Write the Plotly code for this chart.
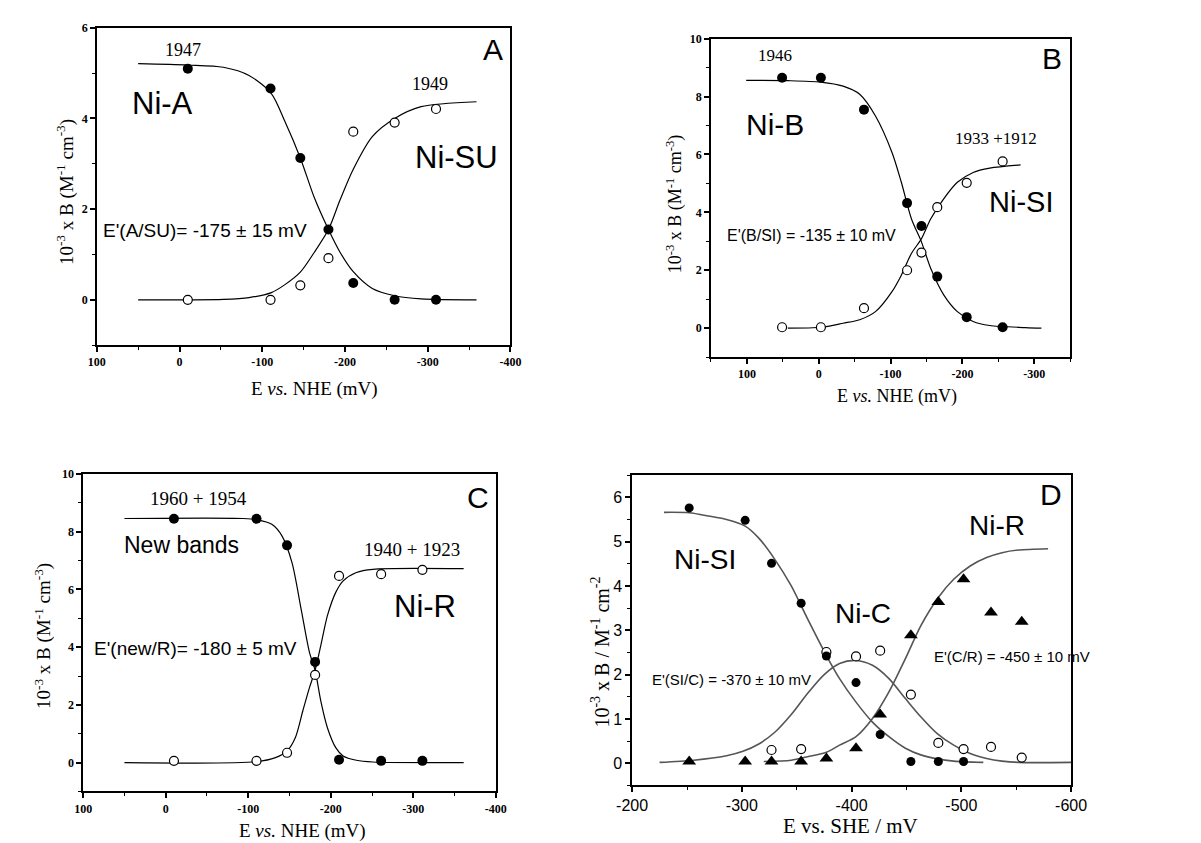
import plotly.graph_objects as go

W, H = 1201, 843

# ---------------- Panel A data ----------------
A_x = [-10, -110, -146, -180, -210, -260, -310]
A_NiA = [5.10, 4.66, 3.13, 1.55, 0.37, 0.0, 0.0]
A_NiSU = [0.0, 0.0, 0.32, 0.92, 3.71, 3.91, 4.21]
A_fit_x = [50, -10, -53, -84, -111, -127, -146, -163, -180, -194, -210, -233, -260, -292, -359]
A_fitA_y = [5.21, 5.18, 5.13, 4.95, 4.55, 3.95, 3.13, 2.25, 1.55, 1.05, 0.62, 0.25, 0.09, 0.02, 0.0]
A_fitSU_y = [0.0, 0.0, 0.01, 0.05, 0.16, 0.33, 0.61, 1.05, 1.55, 2.2, 2.88, 3.6, 4.0, 4.26, 4.37]

# ---------------- Panel B data ----------------
B_x = [51, -3, -63, -123, -143, -165, -206, -256]
B_NiB = [8.65, 8.65, 7.55, 4.32, 3.53, 1.78, 0.38, 0.03]
B_NiSI = [0.03, 0.03, 0.69, 2.0, 2.61, 4.18, 5.02, 5.76]
B_fitB_x = [101, 43, -3, -34, -57, -79, -102, -115, -129, -143, -156, -174, -193, -215, -238, -288, -310]
B_fitB_y = [8.56, 8.55, 8.5, 8.36, 8.08, 7.33, 6.07, 5.04, 3.78, 2.98, 2.06, 1.15, 0.57, 0.23, 0.09, 0.02, 0.0]
B_fitSI_x = [43, -3, -34, -57, -79, -102, -115, -129, -143, -156, -174, -193, -215, -238, -281]
B_fitSI_y = [0.0, 0.03, 0.17, 0.29, 0.57, 1.26, 1.83, 2.58, 3.09, 3.78, 4.47, 5.04, 5.38, 5.53, 5.64]

# ---------------- Panel C data ----------------
C_x = [-10, -110, -147, -181, -210, -261, -311]
C_new = [8.45, 8.45, 7.53, 3.49, 0.10, 0.06, 0.06]
C_NiR = [0.06, 0.06, 0.34, 3.04, 6.47, 6.53, 6.68]
C_fitN_x = [50, -94, -110, -129, -141, -153, -164, -174, -181, -188, -196, -206, -215, -231, -251, -361]
C_fitN_y = [8.46, 8.46, 8.42, 8.25, 7.85, 6.93, 5.33, 3.84, 3.2, 2.12, 1.2, 0.52, 0.23, 0.08, 0.02, 0.0]
C_fitR_x = [50, -110, -133, -147, -157, -166, -174, -181, -188, -196, -206, -215, -231, -251, -361]
C_fitR_y = [0.0, 0.03, 0.17, 0.4, 0.86, 1.78, 2.58, 3.2, 4.07, 5.1, 5.9, 6.3, 6.59, 6.7, 6.72]

# ---------------- Panel D data ----------------
D_x = [-252, -303, -327, -354, -377, -404, -426, -454, -479, -502, -527, -555]
D_SI = [5.76, 5.48, 4.51, 3.61, 2.42, 1.82, 0.65, 0.04, 0.04, 0.04]
D_C_x = [-327, -354, -377, -404, -426, -454, -479, -502, -527, -555]
D_C = [0.30, 0.32, 2.51, 2.41, 2.54, 1.55, 0.46, 0.32, 0.37, 0.13]
D_R = [0.04, 0.04, 0.04, 0.04, 0.11, 0.34, 1.10, 2.89, 3.64, 4.15, 3.40, 3.19]
D_fitSI_x = [-229, -252, -271, -286, -303, -315, -330, -345, -360, -377, -389, -404, -419, -434, -449, -463, -478, -493, -520]
D_fitSI_y = [5.66, 5.65, 5.57, 5.50, 5.35, 5.09, 4.6, 4.0, 3.25, 2.43, 1.91, 1.38, 0.93, 0.6, 0.34, 0.19, 0.1, 0.05, 0.02]
D_fitC_x = [-225, -256, -286, -301, -315, -330, -345, -360, -375, -389, -404, -419, -434, -449, -463, -478, -493, -508, -523, -537, -552, -600]
D_fitC_y = [0.02, 0.07, 0.17, 0.27, 0.43, 0.70, 1.10, 1.58, 2.00, 2.25, 2.32, 2.21, 1.91, 1.46, 1.05, 0.67, 0.41, 0.22, 0.11, 0.05, 0.02, 0.02]
D_fitR_x = [-320, -345, -360, -377, -389, -404, -419, -434, -449, -463, -479, -493, -508, -523, -537, -552, -579]
D_fitR_y = [0.04, 0.07, 0.15, 0.25, 0.41, 0.6, 1.01, 1.61, 2.36, 3.1, 3.74, 4.15, 4.45, 4.64, 4.75, 4.81, 4.84]

# ---------------- tick labels ----------------
X_NHE_vals = [100, 0, -100, -200, -300, -400]
X_NHE_text = ["100", "0", "-100", "-200", "-300", "-400"]
XB_vals = [100, 0, -100, -200, -300]
XB_text = ["100", "0", "-100", "-200", "-300"]
YA_vals = [0, 2, 4, 6]
YA_text = ["0", "2", "4", "6"]
Y10_vals = [0, 2, 4, 6, 8, 10]
Y10_text = ["0", "2", "4", "6", "8", "10"]
XD_vals = [-200, -300, -400, -500, -600]
XD_text = ["-200", "-300", "-400", "-500", "-600"]
YD_vals = [0, 1, 2, 3, 4, 5, 6]
YD_text = ["0", "1", "2", "3", "4", "5", "6"]

SERIF = "Liberation Serif, Times New Roman, serif"
SANS = "Liberation Sans, Arial, sans-serif"

fig = go.Figure()


def line(x, y, ax, color="black", width=1.2):
    fig.add_trace(go.Scatter(x=x, y=y, mode="lines", xaxis=ax[0], yaxis=ax[1],
                             line=dict(color=color, width=width, shape="spline", smoothing=0.8),
                             showlegend=False, hoverinfo="skip"))


def filled(x, y, ax, size=10, symbol="circle"):
    fig.add_trace(go.Scatter(x=x, y=y, mode="markers", xaxis=ax[0], yaxis=ax[1],
                             marker=dict(color="black", size=size, symbol=symbol,
                                         line=dict(width=0)),
                             showlegend=False))


def opened(x, y, ax, size=9):
    fig.add_trace(go.Scatter(x=x, y=y, mode="markers", xaxis=ax[0], yaxis=ax[1],
                             marker=dict(color="white", size=size, symbol="circle",
                                         line=dict(color="black", width=1.2)),
                             showlegend=False))


axA, axB, axC, axD = ("x", "y"), ("x2", "y2"), ("x3", "y3"), ("x4", "y4")

line(A_fit_x, A_fitA_y, axA)
line(A_fit_x, A_fitSU_y, axA)
opened(A_x, A_NiSU, axA)
filled(A_x, A_NiA, axA)

line(B_fitB_x, B_fitB_y, axB)
line(B_fitSI_x, B_fitSI_y, axB)
opened(B_x, B_NiSI, axB)
filled(B_x, B_NiB, axB)

line(C_fitN_x, C_fitN_y, axC)
line(C_fitR_x, C_fitR_y, axC)
opened(C_x, C_NiR, axC)
filled(C_x, C_new, axC)

GRAY = "#555555"
line(D_fitSI_x, D_fitSI_y, axD, GRAY, 1.6)
line(D_fitC_x, D_fitC_y, axD, GRAY, 1.6)
line(D_fitR_x, D_fitR_y, axD, GRAY, 1.6)
opened(D_C_x, D_C, axD, 9)
filled(D_x[:len(D_SI)], D_SI, axD, 9)
filled(D_x, D_R, axD, 12, "triangle-up")


def dom_x(a, b):
    return [a / W, b / W]


def dom_y(top, bottom):
    return [1 - bottom / H, 1 - top / H]


def axis(dom, rng, vals, text, mdtick, font, anchor):
    return dict(domain=dom, range=rng, tickmode="array", tickvals=vals, ticktext=text,
                showline=True, linecolor="black",
                linewidth=1.5, mirror=True, ticks="outside", ticklen=5, tickwidth=1.5,
                tickcolor="black", showgrid=False, zeroline=False, anchor=anchor,
                tickfont=font,
                minor=dict(dtick=mdtick, tick0=0, ticks="outside", ticklen=3, tickwidth=1.2,
                           tickcolor="black", showgrid=False))


tf = dict(family=SERIF, size=12, color="black", weight="bold")
tfD = dict(family=SANS, size=16, color="black")

fig.update_layout(
    width=W, height=H, margin=dict(l=0, r=0, t=0, b=0),
    paper_bgcolor="white", plot_bgcolor="white", showlegend=False,
    xaxis=axis(dom_x(83, 508), [100, -400], X_NHE_vals, X_NHE_text, 50, tf, "y"),
    yaxis=axis(dom_y(21, 341), [-1, 6], YA_vals, YA_text, 1, tf, "x"),
    xaxis2=axis(dom_x(714, 1083), [150, -350], XB_vals, XB_text, 50, tf, "y2"),
    yaxis2=axis(dom_y(32, 353), [-1, 10], Y10_vals, Y10_text, 1, tf, "x2"),
    xaxis3=axis(dom_x(69, 493), [100, -400], X_NHE_vals, X_NHE_text, 50, tf, "y3"),
    yaxis3=axis(dom_y(471, 791), [-1, 10], Y10_vals, Y10_text, 1, tf, "x3"),
    xaxis4=axis(dom_x(633, 1084), [-200, -600], XD_vals, XD_text, 50, tfD, "y4"),
    yaxis4=axis(dom_y(472, 785), [-0.5, 6.5], YD_vals, YD_text, 0.5, tfD, "x4"),
)

anns = []


def ann(text, px, py, family, size, angle=0):
    anns.append(dict(text=text, x=px / W, y=1 - py / H, xref="paper", yref="paper",
                     xanchor="center", yanchor="middle", showarrow=False, textangle=angle,
                     font=dict(family=family, size=size, color="black")))


ylab = "10<sup>-3</sup> x B (M<sup>-1</sup> cm<sup>-3</sup>)"
xlab = "E <i>vs.</i> NHE (mV)"

# Panel A
ann("1947", 172, 43, SERIF, 18)
ann("Ni-A", 150, 97, SANS, 31)
ann("1949", 425, 78, SERIF, 18)
ann("Ni-SU", 453, 152, SANS, 31)
ann("A", 490, 43, SANS, 30)
ann("E'(A/SU)= -175 ± 15 mV", 194, 225, SANS, 19)
ann(ylab, 51, 187, SERIF, 19, -90)
ann(xlab, 307, 385, SERIF, 19)

# Panel B
ann("1946", 780, 49, SERIF, 17)
ann("Ni-B", 780, 118, SANS, 30)
ann("1933 +1912", 1007, 133, SERIF, 17)
ann("Ni-SI", 1032, 197, SANS, 29)
ann("B", 1064, 52, SANS, 30)
ann("E'(B/SI) = -135 ± 10 mV", 817, 230, SANS, 16)
ann(ylab, 677, 198, SERIF, 18, -90)
ann(xlab, 905, 393, SERIF, 18)

# Panel C
ann("1960 + 1954", 187, 496, SERIF, 19)
ann("New bands", 170, 543, SANS, 23)
ann("1940 + 1923", 407, 547, SERIF, 19)
ann("Ni-R", 420, 605, SANS, 31)
ann("C", 475, 495, SANS, 30)
ann("E'(new/R)= -180 ± 5 mV", 184, 647, SANS, 19)
ann(ylab, 28, 634, SERIF, 19, -90)
ann(xlab, 294, 831, SERIF, 19)

# Panel D
ann("Ni-SI", 708, 557, SANS, 28)
ann("Ni-C", 870, 612, SANS, 28)
ann("Ni-R", 1008, 523, SANS, 28)
ann("D", 1063, 492, SANS, 30)
ann("E'(SI/C) = -370 ± 10 mV", 735, 678, SANS, 15)
ann("E'(C/R) = -450 ± 10 mV", 1023, 655, SANS, 15)
ann("10<sup>-3</sup> x B / M<sup>-1</sup> cm<sup>-2</sup>", 600, 651, SERIF, 20, -90)
ann("E vs. SHE / mV", 857, 826, SERIF, 21)

fig.update_layout(annotations=anns)

fig.write_html("out.html")
